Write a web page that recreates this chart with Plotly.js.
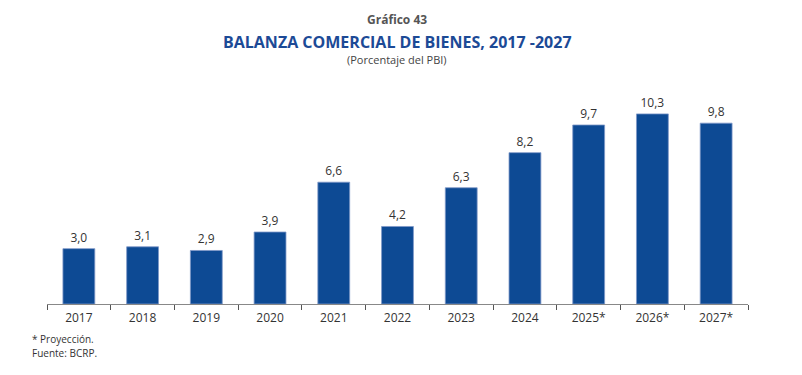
<!DOCTYPE html>
<html><head><meta charset="utf-8">
<script src="https://cdn.plot.ly/plotly-3.0.1.min.js"></script>
<style>html,body{margin:0;padding:0;background:#fff}#c{width:802px;height:375px}</style>
</head><body><div id="c"></div>
<script>
const categories = ["2017","2018","2019","2020","2021","2022","2023","2024","2025*","2026*","2027*"];
const values = [3.0,3.1,2.9,3.9,6.6,4.2,6.3,8.2,9.7,10.3,9.8];
const labels = values.map(v => v.toFixed(1).replace('.', ','));
const F = "Open Sans, Noto Sans, sans-serif";
const H=375, T=101, B=71, L=47, R=54;
const ph=H-T-B, W=802-L-R;
function py(y){return (H-B-y)/ph;}
function px(x){return (x-L)/W;}
Plotly.newPlot('c', [{
  type:'bar', x:categories, y:values, text:labels, textposition:'outside',
  textfont:{family:F,size:12,color:'#333'}, cliponaxis:false,
  marker:{color:'#0d4a94', line:{color:'#7f98c8', width:0.8}},
  hoverinfo:'none'
}], {
  width:802, height:375, bargap:0.5,
  margin:{l:L,r:R,t:T,b:B},
  paper_bgcolor:'#fff', plot_bgcolor:'#fff', showlegend:false,
  xaxis:{type:'category', showline:true, linecolor:'#888', linewidth:1,
    ticks:'outside', tickson:'boundaries', ticklen:5, tickcolor:'#555',
    ticklabelstandoff:3,
    tickfont:{family:F,size:12,color:'#333'}, showgrid:false, fixedrange:true},
  yaxis:{range:[0,11], visible:false, showgrid:false, zeroline:false, fixedrange:true},
  annotations:[
    {text:'<b>Gráfico 43</b>', xref:'paper', yref:'paper', x:px(397), y:py(19), xanchor:'center', yanchor:'middle', showarrow:false, font:{family:F,size:12,color:'#555'}},
    {text:'<b>BALANZA COMERCIAL DE BIENES, 2017 -2027</b>', xref:'paper', yref:'paper', x:px(397), y:py(42), xanchor:'center', yanchor:'middle', showarrow:false, font:{family:F,size:16,color:'#1c4a96'}},
    {text:'(Porcentaje del PBI)', xref:'paper', yref:'paper', x:px(397), y:py(60), xanchor:'center', yanchor:'middle', showarrow:false, font:{family:F,size:11,color:'#444'}},
    {text:'* Proyección.', xref:'paper', yref:'paper', x:px(30), y:py(339), xanchor:'left', yanchor:'middle', showarrow:false, font:{family:F,size:10,color:'#333'}},
    {text:'Fuente: BCRP.', xref:'paper', yref:'paper', x:px(30), y:py(353), xanchor:'left', yanchor:'middle', showarrow:false, font:{family:F,size:10,color:'#333'}}
  ]
}, {staticPlot:true});
</script></body></html>
